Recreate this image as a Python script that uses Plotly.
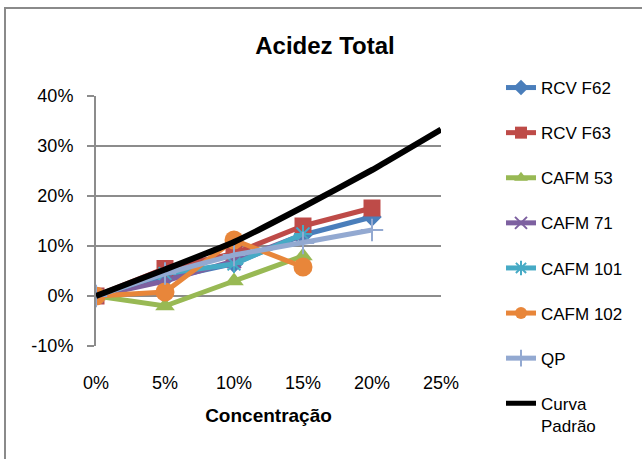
import plotly.graph_objects as go

# Concentration levels (fraction) and measured total acidity per sample
concentracao = [0.0, 0.05, 0.10, 0.15, 0.20, 0.25]

rcv_f62 = [0.0, 0.035, 0.065, 0.122, 0.158]
rcv_f63 = [0.0, 0.055, 0.085, 0.140, 0.176]
cafm_53 = [0.0, -0.020, 0.030, 0.080]
cafm_71 = [0.0, 0.030, 0.070, 0.123]
cafm_101 = [0.0, 0.045, 0.064, 0.124]
cafm_102 = [0.0, 0.008, 0.112, 0.058]
qp = [0.0, 0.045, 0.082, 0.106, 0.132]
curva_padrao = [0.0, 0.053, 0.108, 0.178, 0.252, 0.333]

y_ticks = [-0.1, 0.0, 0.1, 0.2, 0.3, 0.4]
x_ticks = [0.0, 0.05, 0.10, 0.15, 0.20, 0.25]
y_labels = [f"{v:.0%}" for v in y_ticks]
x_labels = [f"{v:.0%}" for v in x_ticks]

FONT = "Liberation Sans, Arial, sans-serif"
GRID = "#8c8c8c"

series = [
    ("RCV F62", rcv_f62, "#4A7EBB", "diamond", 15, 0),
    ("RCV F63", rcv_f63, "#BE4B48", "square", 17, 0),
    ("CAFM 53", cafm_53, "#98B954", "triangle-up", 17, 0),
    ("CAFM 71", cafm_71, "#7D60A0", "x-thin-open", 14, 2),
    ("CAFM 101", cafm_101, "#46AAC5", "asterisk-open", 15, 2),
    ("CAFM 102", cafm_102, "#E8863A", "circle", 19, 0),
    ("QP", qp, "#93A9D1", "cross-thin-open", 16, 2),
]

fig = go.Figure()

for name, vals, color, symbol, size, lw in series:
    marker = dict(symbol=symbol, size=size, color=color)
    if lw:
        marker["line"] = dict(color=color, width=lw)
    fig.add_trace(go.Scatter(
        x=concentracao[:len(vals)], y=vals, name=name, mode="lines+markers",
        line=dict(color=color, width=5), marker=marker,
        legendgroup=name,
    ))

fig.add_trace(go.Scatter(
    x=concentracao, y=curva_padrao, name="Curva<br>Padrão", mode="lines",
    line=dict(color="black", width=6, shape="spline", smoothing=0.4),
    legendgroup="curva",
))

fig.update_layout(
    width=642, height=459,
    margin=dict(l=96, r=201, t=96, b=113),
    paper_bgcolor="white", plot_bgcolor="white",
    font=dict(family=FONT, size=18, color="black"),
    title=dict(text="<b>Acidez Total</b>", x=(325 - 96) / 345, xref="paper", xanchor="center",
               y=1 - 46 / 459, yanchor="middle", font=dict(size=24, family=FONT)),
    showlegend=True,
    legend=dict(x=(501 - 96) / 345, xanchor="left", y=(346 - 70) / 250, yanchor="top",
                font=dict(size=17, family=FONT), tracegroupgap=20,
                itemsizing="constant", maxheight=459, valign="top",
                bgcolor="rgba(0,0,0,0)"),
    xaxis=dict(
        range=[0, 0.25], tickvals=x_ticks, ticktext=x_labels,
        showgrid=False, zeroline=False, showline=False, ticks="",
        ticklabelstandoff=24, tickfont=dict(size=18),
        title=dict(text="<b>Concentração</b>", font=dict(size=19), standoff=16),
    ),
    xaxis2=dict(
        range=[0, 0.25], tickvals=x_ticks, overlaying="x", anchor="free", position=0.2,
        showgrid=False, zeroline=False, showline=True, linecolor=GRID, linewidth=2,
        ticks="outside", ticklen=7, tickwidth=2, tickcolor=GRID, showticklabels=False,
    ),
    yaxis=dict(
        range=[-0.1, 0.4], tickvals=y_ticks, ticktext=y_labels,
        showgrid=True, gridcolor=GRID, gridwidth=1.5, zeroline=False,
        showline=True, linecolor=GRID, linewidth=2,
        ticks="outside", ticklen=7, tickwidth=1.5, tickcolor=GRID,
        ticklabelstandoff=10, tickfont=dict(size=18),
    ),
)

# chart frame
fig.add_shape(type="rect", xref="paper", yref="paper",
              x0=(5 - 96) / 345, x1=(660 - 96) / 345,
              y0=(346 - 480) / 250, y1=(346 - 8) / 250,
              line=dict(color="#8a8a8a", width=2), layer="below")

fig.write_html("out.html")
